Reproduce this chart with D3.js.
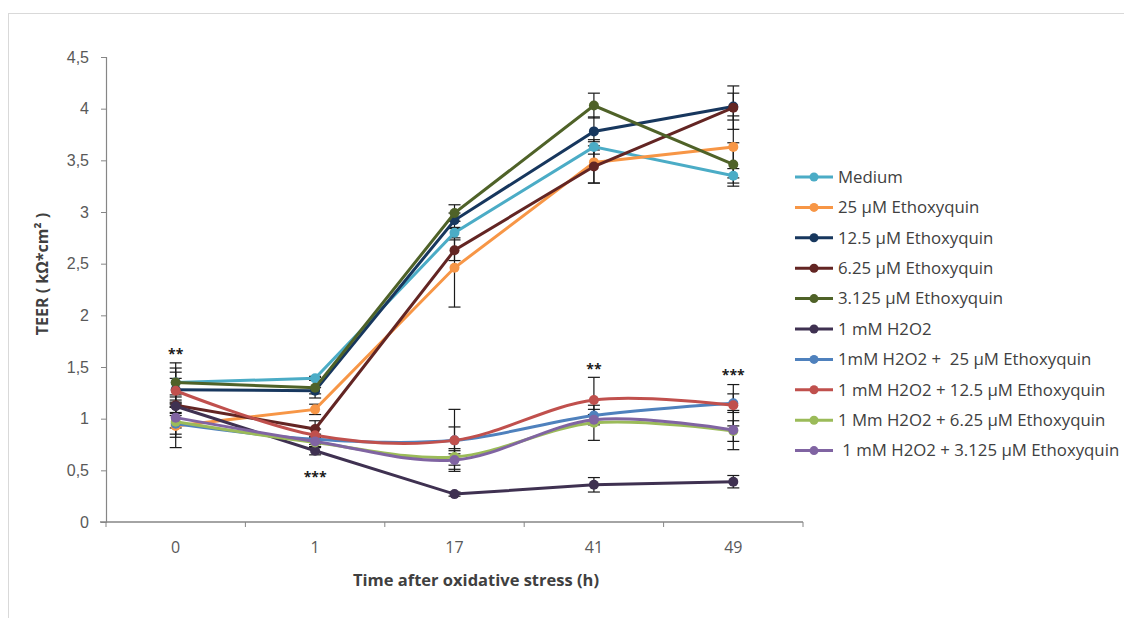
<!DOCTYPE html>
<html>
<head>
<meta charset="utf-8">
<script src="https://cdn.jsdelivr.net/npm/d3@7"></script>
<style>
  html, body { margin: 0; padding: 0; background: #fff; overflow: hidden; }
  svg { display: block; font-family: "Open Sans", "Noto Sans", sans-serif; }
</style>
</head>
<body>
<svg id="chart" width="1124" height="618"></svg>
<script>
const timepoints = ['0', '1', '17', '41', '49'];
const yTicks = [0, 0.5, 1, 1.5, 2, 2.5, 3, 3.5, 4, 4.5];

const seriesNames = [
  'Medium',
  '25 µM Ethoxyquin',
  '12.5 µM Ethoxyquin',
  '6.25 µM Ethoxyquin',
  '3.125 µM Ethoxyquin',
  '1 mM H2O2',
  '1mM H2O2 +  25 µM Ethoxyquin',
  '1 mM H2O2 + 12.5 µM Ethoxyquin',
  '1 Mm H2O2 + 6.25 µM Ethoxyquin',
  ' 1 mM H2O2 + 3.125 µM Ethoxyquin'
];
const seriesColors = ['#4bacc6', '#f79646', '#17375e', '#632523', '#4f6228',
                      '#3f3151', '#4f81bd', '#c0504d', '#9bbb59', '#8064a2'];
// smoothed lines for the H2O2 + ethoxyquin groups
const seriesSmooth = [false, false, false, false, false, false, true, true, true, true];

const medium      = [1.35, 1.39, 2.80, 3.63, 3.35];
const eq25        = [0.93, 1.09, 2.46, 3.48, 3.63];
const eq12_5      = [1.28, 1.27, 2.92, 3.78, 4.02];
const eq6_25      = [1.13, 0.90, 2.63, 3.44, 4.01];
const eq3_125     = [1.35, 1.30, 2.99, 4.03, 3.46];
const h2o2        = [1.12, 0.69, 0.27, 0.36, 0.39];
const h2o2eq25    = [0.95, 0.80, 0.79, 1.03, 1.15];
const h2o2eq12_5  = [1.27, 0.84, 0.79, 1.18, 1.13];
const h2o2eq6_25  = [0.97, 0.77, 0.63, 0.96, 0.88];
const h2o2eq3_125 = [1.01, 0.78, 0.60, 0.99, 0.89];

// standard deviations (error bars)
const sdMedium      = [0.19, 0.02, 0.05, 0.07, 0.07];
const sdEq25        = [0.21, 0.05, 0.38, 0.20, 0.30];
const sdEq12_5      = [0.17, 0.03, 0.07, 0.14, 0.13];
const sdEq6_25      = [0.10, 0.08, 0.10, 0.16, 0.21];
const sdEq3_125     = [0.14, 0.10, 0.08, 0.12, 0.21];
const sdH2o2        = [0.06, 0.04, 0.02, 0.07, 0.06];
const sdH2o2eq25    = [0.10, 0.05, 0.13, 0.06, 0.09];
const sdH2o2eq12_5  = [0.12, 0.06, 0.30, 0.22, 0.20];
const sdH2o2eq6_25  = [0.15, 0.05, 0.08, 0.17, 0.10];
const sdH2o2eq3_125 = [0.10, 0.05, 0.09, 0.05, 0.19];

const values = [medium, eq25, eq12_5, eq6_25, eq3_125, h2o2, h2o2eq25, h2o2eq12_5, h2o2eq6_25, h2o2eq3_125];
const sds = [sdMedium, sdEq25, sdEq12_5, sdEq6_25, sdEq3_125, sdH2o2, sdH2o2eq25, sdH2o2eq12_5, sdH2o2eq6_25, sdH2o2eq3_125];

// significance marks: time index, label, position (value)
const sigTime  = ['0', '1', '41', '49'];
const sigLabel = ['**', '***', '**', '***'];
const sigValue = [1.61, 0.42, 1.47, 1.41];

const svg = d3.select('#chart');

// outer chart frame
svg.append('rect')
  .attr('x', 8.5).attr('y', 13.5)
  .attr('width', 1200).attr('height', 700)
  .attr('fill', 'none').attr('stroke', '#d9d9d9');

const margin = { left: 106, right: 803, top: 57, bottom: 522 };

const x = d3.scaleBand().domain(timepoints).range([margin.left, margin.right]);
const y = d3.scaleLinear().domain([0, 4.5]).range([margin.bottom, margin.top]);
const cx = t => x(t) + x.bandwidth() / 2;

// y axis
const yAxis = svg.append('g')
  .attr('transform', `translate(${margin.left},0)`)
  .call(d3.axisLeft(y).tickValues(yTicks).tickSize(5).tickPadding(12)
    .tickFormat(d => String(d).replace('.', ',')));
yAxis.select('.domain').attr('stroke', '#868686').attr('stroke-width', 1.2);
yAxis.selectAll('.tick line').attr('stroke', '#868686');
yAxis.selectAll('.tick text').attr('fill', '#595959').style('font-size', '16px');

// x axis with ticks at category boundaries
const xAxis = svg.append('g')
  .attr('transform', `translate(0,${margin.bottom})`);
xAxis.append('line')
  .attr('x1', margin.left - 6).attr('x2', margin.right)
  .attr('stroke', '#868686').attr('stroke-width', 1.5);
const boundaries = timepoints.map(t => x(t)).concat([x(timepoints[timepoints.length - 1]) + x.bandwidth()]);
xAxis.selectAll('.xb').data(boundaries).enter().append('line')
  .attr('x1', d => d).attr('x2', d => d).attr('y1', 0).attr('y2', 5)
  .attr('stroke', '#868686');
xAxis.selectAll('.xl').data(timepoints).enter().append('text')
  .attr('x', d => cx(d)).attr('y', 31)
  .attr('text-anchor', 'middle')
  .attr('fill', '#595959').style('font-size', '16px')
  .text(d => d);

// axis titles
svg.append('text')
  .attr('x', 476).attr('y', 586)
  .attr('text-anchor', 'middle')
  .attr('fill', '#404040').style('font-size', '16.5px').style('font-weight', 'bold')
  .text('Time after oxidative stress (h)');

svg.append('text')
  .attr('transform', 'translate(48,274) rotate(-90)')
  .attr('text-anchor', 'middle')
  .attr('fill', '#404040').style('font-size', '16px').style('font-weight', 'bold')
  .text('TEER  ( kΩ*cm² )');

// error bars
const errG = svg.append('g');
values.forEach((vals, i) => {
  vals.forEach((v, j) => {
    const t = timepoints[j];
    const lo = v - sds[i][j], hi = v + sds[i][j];
    errG.append('line')
      .attr('x1', cx(t)).attr('x2', cx(t)).attr('y1', y(lo)).attr('y2', y(hi))
      .attr('stroke', '#1a1a1a').attr('stroke-width', 1.2);
    [lo, hi].forEach(e => {
      errG.append('line')
        .attr('x1', cx(t) - 6).attr('x2', cx(t) + 6).attr('y1', y(e)).attr('y2', y(e))
        .attr('stroke', '#1a1a1a').attr('stroke-width', 1.2);
    });
  });
});

// lines and markers
const linesG = svg.append('g');
values.forEach((vals, i) => {
  const line = d3.line()
    .x((d, j) => cx(timepoints[j]))
    .y(d => y(d))
    .curve(seriesSmooth[i] ? d3.curveCardinal.tension(0) : d3.curveLinear);
  linesG.append('path')
    .datum(vals)
    .attr('d', line)
    .attr('fill', 'none')
    .attr('stroke', seriesColors[i])
    .attr('stroke-width', 3);
  linesG.selectAll(null).data(vals).enter().append('circle')
    .attr('cx', (d, j) => cx(timepoints[j]))
    .attr('cy', d => y(d))
    .attr('r', 5)
    .attr('fill', seriesColors[i]);
});

// significance marks
svg.selectAll('.sig').data(sigLabel).enter().append('text')
  .attr('x', (d, i) => cx(sigTime[i]))
  .attr('y', (d, i) => y(sigValue[i]))
  .attr('text-anchor', 'middle')
  .attr('dominant-baseline', 'middle')
  .attr('fill', '#1a1a1a')
  .style('font-size', '14px').style('font-weight', 'bold')
  .text(d => d);

// legend
const legend = svg.append('g').attr('transform', 'translate(795,177)');
const rows = legend.selectAll('.row').data(seriesNames).enter().append('g')
  .attr('transform', (d, i) => `translate(0,${i * 30.4})`);
rows.append('line')
  .attr('x1', 0).attr('x2', 38)
  .attr('stroke', (d, i) => seriesColors[i]).attr('stroke-width', 3);
rows.append('circle')
  .attr('cx', 19).attr('r', 4.5)
  .attr('fill', (d, i) => seriesColors[i]);
rows.append('text')
  .attr('x', 43).attr('dy', '0.35em')
  .attr('fill', '#404040').style('font-size', '16.8px')
  .style('white-space', 'pre')
  .text(d => d);
</script>
</body>
</html>
